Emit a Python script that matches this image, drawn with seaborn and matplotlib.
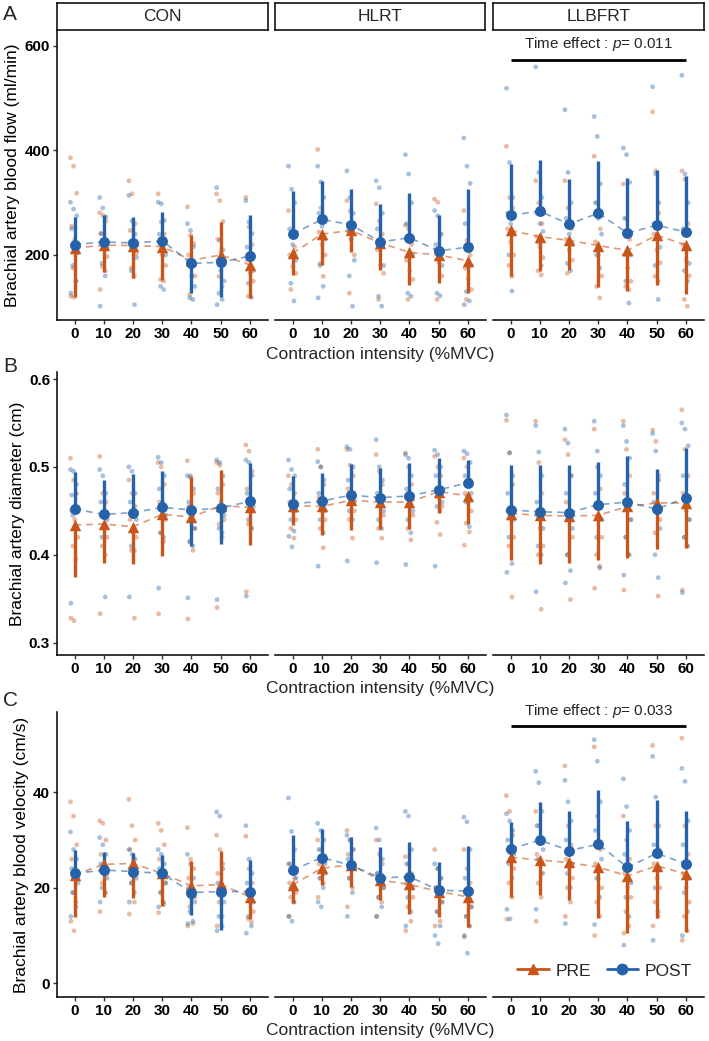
import numpy as np
import pandas as pd
import seaborn as sns
import matplotlib
matplotlib.use("Agg")
import matplotlib.pyplot as plt
from matplotlib.lines import Line2D
from matplotlib import font_manager

# ---------------- data ----------------
intensities = [0, 10, 20, 30, 40, 50, 60]
groups = ["CON", "HLRT", "LLBFRT"]
times = ["PRE", "POST"]

# Panel A: brachial artery blood flow (ml/min); *_end = end of the drawn one-sided SD bar
flow_pre_mean = {"CON": [213, 219, 218, 216, 190, 200, 181],
                 "HLRT": [203, 240, 247, 223, 205, 200, 189],
                 "LLBFRT": [247, 235, 228, 218, 209, 238, 219]}
flow_pre_end = {"CON": [119, 167, 156, 153, 238, 264, 118],
                "HLRT": [162, 180, 206, 172, 143, 146, 127],
                "LLBFRT": [160, 170, 172, 139, 132, 142, 126]}
flow_post_mean = {"CON": [220, 225, 223, 227, 184, 186, 198],
                  "HLRT": [240, 268, 258, 225, 233, 208, 215],
                  "LLBFRT": [276, 284, 259, 280, 242, 257, 244]}
flow_post_end = {"CON": [273, 276, 273, 283, 127, 119, 277],
                 "HLRT": [323, 342, 327, 298, 318, 276, 326],
                 "LLBFRT": [374, 381, 346, 379, 348, 363, 351]}

# Panel B: brachial artery diameter (cm)
diam_pre_mean = {"CON": [0.434, 0.435, 0.432, 0.446, 0.443, 0.456, 0.454],
                 "HLRT": [0.456, 0.455, 0.462, 0.460, 0.460, 0.472, 0.467],
                 "LLBFRT": [0.447, 0.445, 0.444, 0.445, 0.455, 0.459, 0.459]}
diam_pre_end = {"CON": [0.375, 0.391, 0.389, 0.399, 0.489, 0.497, 0.411],
                "HLRT": [0.434, 0.422, 0.428, 0.429, 0.429, 0.448, 0.435],
                "LLBFRT": [0.394, 0.389, 0.391, 0.394, 0.396, 0.407, 0.408]}
diam_post_mean = {"CON": [0.452, 0.446, 0.448, 0.454, 0.451, 0.453, 0.461],
                  "HLRT": [0.458, 0.461, 0.468, 0.465, 0.467, 0.474, 0.482],
                  "LLBFRT": [0.451, 0.449, 0.448, 0.457, 0.460, 0.452, 0.465]}
diam_post_end = {"CON": [0.494, 0.485, 0.492, 0.495, 0.410, 0.412, 0.505],
                 "HLRT": [0.490, 0.493, 0.503, 0.499, 0.504, 0.510, 0.508],
                 "LLBFRT": [0.502, 0.502, 0.502, 0.506, 0.512, 0.498, 0.521]}

# Panel C: brachial artery blood velocity (cm/s)
vel_pre_mean = {"CON": [22.7, 24.9, 25.1, 23.0, 20.4, 20.7, 18.1],
                "HLRT": [20.6, 24.1, 24.8, 21.6, 20.7, 19.2, 18.1],
                "LLBFRT": [26.4, 25.8, 25.3, 24.3, 22.5, 24.6, 22.9]}
vel_pre_end = {"CON": [13.9, 18.1, 17.8, 16.2, 25.7, 27.7, 13.4],
               "HLRT": [16.9, 20.6, 20.2, 17.4, 14.6, 13.8, 11.8],
               "LLBFRT": [18.0, 18.5, 17.4, 13.6, 10.6, 13.6, 10.8]}
vel_post_mean = {"CON": [23.0, 23.7, 23.4, 23.0, 19.0, 19.2, 19.2],
                 "HLRT": [23.7, 26.3, 24.7, 22.1, 22.3, 19.5, 19.3],
                 "LLBFRT": [28.1, 30.0, 27.8, 29.1, 24.3, 27.2, 25.0]}
vel_post_end = {"CON": [28.0, 27.5, 27.3, 26.8, 14.3, 11.1, 25.9],
                "HLRT": [31.0, 32.3, 30.7, 28.6, 29.6, 25.3, 28.7],
                "LLBFRT": [33.8, 38.0, 36.1, 40.5, 34.0, 38.4, 36.1]}

# Individual data points (read approximately)
flow_pre_pts = {
    "CON": [[386, 370, 318, 255, 230, 205, 175, 150, 121, 119],
            [281, 276, 265, 241, 220, 197, 178, 170, 134],
            [342, 317, 260, 247, 220, 203, 175, 159],
            [317, 263, 240, 225, 200, 180, 153, 150],
            [292, 238, 222, 200, 178, 160, 124],
            [317, 304, 264, 230, 206, 190, 159, 140],
            [310, 254, 220, 190, 165, 150, 121]],
    "HLRT": [[285, 240, 215, 200, 178, 165, 134],
             [402, 290, 265, 244, 220, 200, 184, 159],
             [304, 284, 260, 245, 230, 200, 127],
             [298, 265, 240, 210, 180, 165, 115],
             [257, 250, 220, 190, 170, 153, 115],
             [307, 301, 240, 210, 185, 160, 115],
             [285, 228, 200, 175, 155, 134, 115]],
    "LLBFRT": [[408, 310, 290, 250, 225, 200, 180, 159],
               [342, 300, 260, 235, 215, 195, 170, 162],
               [342, 290, 250, 230, 210, 190, 165],
               [389, 300, 250, 225, 200, 160, 140, 118],
               [336, 270, 230, 200, 175, 150, 140, 134],
               [474, 361, 280, 240, 210, 185, 159, 150],
               [361, 345, 260, 220, 190, 160, 115, 102]]}
flow_post_pts = {
    "CON": [[301, 288, 275, 250, 225, 205, 180, 150, 127],
            [310, 290, 273, 241, 225, 213, 184, 160, 102],
            [314, 265, 240, 225, 213, 195, 170, 105],
            [301, 298, 266, 240, 216, 200, 140, 134],
            [260, 247, 216, 190, 159, 140, 118, 115],
            [329, 228, 210, 190, 170, 150, 127, 115, 105],
            [304, 263, 241, 215, 190, 170, 146, 119]],
    "HLRT": [[370, 326, 300, 250, 220, 190, 146, 112],
             [370, 340, 310, 280, 255, 230, 180, 140, 118],
             [361, 310, 280, 260, 230, 190, 160, 102],
             [342, 329, 280, 250, 225, 180, 121, 102],
             [392, 355, 300, 260, 230, 200, 127, 121],
             [285, 275, 240, 220, 200, 180, 127, 122],
             [424, 370, 337, 260, 220, 180, 130, 112, 105]],
    "LLBFRT": [[519, 377, 310, 280, 260, 240, 200, 131],
               [560, 358, 310, 280, 260, 245, 225, 180],
               [478, 358, 300, 270, 240, 220, 184, 170],
               [465, 427, 336, 300, 270, 240, 200, 175],
               [405, 392, 339, 270, 240, 200, 150, 108],
               [522, 355, 300, 260, 240, 215, 180, 115],
               [544, 355, 300, 250, 220, 184, 170, 150]]}

diam_pre_pts = {
    "CON": [[0.51, 0.485, 0.47, 0.45, 0.44, 0.42, 0.41, 0.395, 0.328, 0.325],
            [0.512, 0.47, 0.46, 0.445, 0.43, 0.42, 0.41, 0.40, 0.333],
            [0.485, 0.47, 0.455, 0.44, 0.425, 0.42, 0.405, 0.328],
            [0.505, 0.50, 0.48, 0.46, 0.45, 0.44, 0.425, 0.415, 0.333],
            [0.507, 0.49, 0.47, 0.455, 0.445, 0.43, 0.415, 0.405, 0.327],
            [0.505, 0.502, 0.48, 0.47, 0.455, 0.44, 0.435, 0.42, 0.34],
            [0.525, 0.518, 0.495, 0.475, 0.46, 0.45, 0.435, 0.43, 0.358]],
    "HLRT": [[0.49, 0.48, 0.47, 0.46, 0.45, 0.44, 0.43, 0.419],
             [0.52, 0.50, 0.48, 0.465, 0.45, 0.44, 0.43, 0.408],
             [0.52, 0.502, 0.49, 0.475, 0.46, 0.45, 0.44, 0.419],
             [0.514, 0.495, 0.48, 0.465, 0.455, 0.445, 0.43, 0.419],
             [0.516, 0.50, 0.48, 0.465, 0.455, 0.445, 0.43, 0.417],
             [0.512, 0.50, 0.49, 0.475, 0.465, 0.455, 0.437, 0.423],
             [0.51, 0.50, 0.485, 0.47, 0.46, 0.45, 0.436, 0.426, 0.411]],
    "LLBFRT": [[0.553, 0.516, 0.48, 0.45, 0.44, 0.42, 0.41, 0.352],
               [0.552, 0.505, 0.47, 0.445, 0.43, 0.41, 0.40, 0.338],
               [0.531, 0.514, 0.49, 0.46, 0.44, 0.42, 0.40, 0.349],
               [0.543, 0.50, 0.475, 0.455, 0.44, 0.42, 0.40, 0.387, 0.362],
               [0.552, 0.52, 0.49, 0.47, 0.455, 0.44, 0.42, 0.40, 0.36],
               [0.542, 0.529, 0.49, 0.47, 0.455, 0.44, 0.425, 0.353],
               [0.565, 0.52, 0.49, 0.47, 0.45, 0.44, 0.42, 0.41, 0.36]]}
diam_post_pts = {
    "CON": [[0.497, 0.495, 0.48, 0.468, 0.455, 0.45, 0.445, 0.43, 0.345],
            [0.497, 0.49, 0.47, 0.46, 0.45, 0.44, 0.42, 0.352],
            [0.50, 0.495, 0.47, 0.46, 0.45, 0.44, 0.41, 0.405, 0.352],
            [0.511, 0.505, 0.49, 0.475, 0.46, 0.445, 0.425, 0.42, 0.362],
            [0.49, 0.488, 0.475, 0.46, 0.44, 0.43, 0.415, 0.41, 0.351],
            [0.508, 0.505, 0.49, 0.475, 0.46, 0.445, 0.43, 0.425, 0.349],
            [0.508, 0.505, 0.49, 0.47, 0.46, 0.455, 0.44, 0.43, 0.353]],
    "HLRT": [[0.508, 0.497, 0.49, 0.475, 0.46, 0.45, 0.44, 0.427, 0.421, 0.409],
             [0.506, 0.50, 0.485, 0.47, 0.46, 0.45, 0.44, 0.425, 0.387],
             [0.523, 0.52, 0.50, 0.485, 0.47, 0.46, 0.45, 0.44, 0.393],
             [0.531, 0.50, 0.485, 0.47, 0.46, 0.45, 0.44, 0.43, 0.391],
             [0.514, 0.51, 0.49, 0.475, 0.46, 0.45, 0.44, 0.425, 0.389],
             [0.519, 0.514, 0.50, 0.49, 0.475, 0.46, 0.455, 0.45, 0.387],
             [0.518, 0.515, 0.505, 0.49, 0.48, 0.47, 0.46, 0.432]],
    "LLBFRT": [[0.559, 0.516, 0.49, 0.47, 0.45, 0.44, 0.42, 0.39, 0.38],
               [0.547, 0.517, 0.49, 0.46, 0.445, 0.43, 0.41, 0.40, 0.358],
               [0.543, 0.527, 0.49, 0.47, 0.45, 0.43, 0.40, 0.382, 0.368],
               [0.552, 0.518, 0.49, 0.47, 0.46, 0.44, 0.42, 0.385],
               [0.547, 0.529, 0.51, 0.48, 0.46, 0.44, 0.42, 0.40, 0.377],
               [0.538, 0.518, 0.485, 0.46, 0.45, 0.43, 0.40, 0.374],
               [0.55, 0.543, 0.524, 0.49, 0.46, 0.44, 0.42, 0.41, 0.357]]}

vel_pre_pts = {
    "CON": [[38, 35, 29, 26, 24, 22, 19, 17, 13, 11],
            [34, 33.5, 30, 27, 25, 23, 21, 19, 15],
            [38.5, 33, 30, 28, 26, 23, 21, 17, 14.5],
            [33.5, 32, 29, 26, 24, 21, 19, 16.5, 14.8],
            [32.6, 26, 24, 22, 20, 18, 16, 12.5, 12],
            [31, 28, 25, 23, 21, 19, 17, 14, 12],
            [30.8, 24, 21, 19, 17, 15, 13.5, 12.8]],
    "HLRT": [[25, 23.5, 22, 21, 20.5, 19, 18, 17, 14],
             [30, 28, 26, 25, 24, 23, 22, 21, 18],
             [32, 30, 28, 27, 25, 24, 22, 20, 16],
             [30, 27, 25, 23, 21.5, 20, 18, 17, 14],
             [26.5, 25, 23, 21, 20, 18, 16, 13, 11],
             [28, 24, 22, 20, 18.5, 17, 15, 13, 12],
             [28, 24, 21, 19, 18, 16, 14, 12, 9.7]],
    "LLBFRT": [[39.3, 36, 31, 28, 26, 24, 21, 18, 13.4],
               [36, 33, 30, 27, 25, 23, 21, 18, 13],
               [45.5, 33, 29, 26, 24, 22, 20, 17, 14],
               [49.5, 35, 28, 25, 22, 20, 17, 14, 10],
               [35, 30, 26, 23, 20, 18, 15, 12, 10.5],
               [49.8, 33, 28, 25, 22, 20, 17, 14, 12],
               [51.3, 33, 27, 23, 20, 17, 14, 11, 9]]}
vel_post_pts = {
    "CON": [[31.7, 28, 26, 24, 23, 21, 19, 16, 14],
            [30.5, 29, 27, 25, 23.5, 22, 20, 19, 17],
            [28, 27, 26, 24, 23, 22, 21, 19, 17],
            [28, 27, 25, 24, 22, 21, 19, 17, 16],
            [27, 25, 22, 20, 19, 17, 15, 13, 12.5],
            [35.9, 35, 24, 21, 19, 17, 14, 12, 11],
            [33, 26, 23, 21, 19, 17, 14, 12, 10.5]],
    "HLRT": [[38.8, 31.8, 28, 25, 23.5, 22, 20, 17, 14, 13],
             [33.5, 32, 30, 28, 26, 25, 22, 20, 17, 16],
             [31, 30, 28, 26, 25, 24, 22, 19, 14],
             [32.5, 30, 26, 23, 22, 20, 18, 16, 14],
             [36, 35, 28, 25, 22, 20, 18, 15, 12],
             [25, 24, 22, 20, 19, 17, 15, 12, 10, 8.3],
             [34.8, 33.8, 28, 22, 19, 16, 14, 12, 10, 6.3]],
    "LLBFRT": [[35.5, 34, 32, 30, 28, 27, 25, 22, 15.5, 13.5],
               [44.4, 42, 36, 33, 30, 28, 26, 23, 15.5],
               [42.5, 38, 34, 30, 27, 25, 23, 20, 12.5],
               [51, 46.5, 38, 32, 29, 26, 22, 18, 12.3],
               [42.8, 37, 32, 27, 24, 21, 18, 14, 8],
               [47.5, 39, 33, 29, 27, 24, 20, 15, 9],
               [45, 42.3, 34, 29, 25, 22, 19, 15, 10]]}

ylabels = ["Brachial artery blood flow (ml/min)",
           "Brachial artery diameter (cm)",
           "Brachial artery blood velocity (cm/s)"]
yticks = [[200, 400, 600], [0.3, 0.4, 0.5, 0.6], [0, 20, 40]]
ytick_labels = [["200", "400", "600"], ["0.3", "0.4", "0.5", "0.6"], ["0", "20", "40"]]
ylims = [(75.6, 628.7), (0.286, 0.608), (-2.87, 56.8)]
annot_text = {0: "0.011", 2: "0.033"}
annot_line_y = {0: 574, 2: 53.9}
annot_text_y = {0: 604, 2: 57.1}

measures = [
    (flow_pre_mean, flow_pre_end, flow_post_mean, flow_post_end, flow_pre_pts, flow_post_pts),
    (diam_pre_mean, diam_pre_end, diam_post_mean, diam_post_end, diam_pre_pts, diam_post_pts),
    (vel_pre_mean, vel_pre_end, vel_post_mean, vel_post_end, vel_pre_pts, vel_post_pts),
]

# ---------------- style ----------------
sns.set_theme(style="ticks")
plt.rcParams["font.family"] = ["Liberation Sans", "DejaVu Sans"]
plt.rcParams["mathtext.fontset"] = "custom"
plt.rcParams["mathtext.it"] = "Liberation Sans:italic"
plt.rcParams["mathtext.rm"] = "Liberation Sans"

installed = {f.name for f in font_manager.fontManager.ttflist}
if "Liberation Sans Narrow" in installed:
    tick_family = ["Liberation Sans Narrow", "DejaVu Sans"]
    tick_size = 12
else:
    tick_family = ["Liberation Sans", "DejaVu Sans"]
    tick_size = 11

PRE_C = "#C8561A"
POST_C = "#2562AA"
pal = {"PRE": PRE_C, "POST": POST_C}
markers = {"PRE": "^", "POST": "o"}

W, H = 709, 1041
fig = plt.figure(figsize=(W / 100, H / 100), dpi=100)

panel_left = [57, 275, 493]
panel_w = 210.5
row_top = [31, 372, 712]
row_bottom = [320, 655, 997]
xlabel_y = [355, 689, 1030]
letter_y = [14, 366, 701]


def jitter(n):
    return ((np.arange(n) * 0.381966) % 1.0 - 0.5) * 2.8


for r, (pre_m, pre_e, post_m, post_e, pre_p, post_p) in enumerate(measures):
    for c, g in enumerate(groups):
        rect = [panel_left[c] / W, 1 - row_bottom[r] / H, panel_w / W,
                (row_bottom[r] - row_top[r]) / H]
        ax = fig.add_axes(rect)

        # individual points
        rows = []
        for t, pts in (("PRE", pre_p[g]), ("POST", post_p[g])):
            for xi, vals in zip(intensities, pts):
                for v, j in zip(vals, jitter(len(vals))):
                    rows.append({"time": t, "x": xi + j, "value": v})
        dpts = pd.DataFrame(rows)
        sns.scatterplot(data=dpts, x="x", y="value", hue="time", hue_order=times,
                        palette=pal, s=12, alpha=0.4, linewidth=0, legend=False,
                        ax=ax, zorder=1)

        # means
        dm = pd.DataFrame({
            "time": ["PRE"] * 7 + ["POST"] * 7,
            "x": intensities * 2,
            "mean": pre_m[g] + post_m[g],
            "end": pre_e[g] + post_e[g],
        })
        for t in times:
            sub = dm[dm.time == t]
            sns.lineplot(data=sub, x="x", y="mean", color=pal[t], linestyle=(0, (4, 3)),
                         lw=1.2, alpha=0.6, ax=ax, zorder=2, legend=False)
        for t in times:
            sub = dm[dm.time == t]
            ax.vlines(sub["x"], sub["mean"], sub["end"], color=pal[t], lw=2.4, zorder=3)
            sns.scatterplot(data=sub, x="x", y="mean", color=pal[t], marker=markers[t],
                            s=62 if t == "POST" else 68, linewidth=0, legend=False,
                            ax=ax, zorder=4)

        ax.set_xlim(-6, 66)
        ax.set_ylim(*ylims[r])
        ax.set_xticks(intensities)
        ax.set_xticklabels([str(v) for v in intensities], fontweight="bold",
                           fontsize=tick_size, family=tick_family)
        ax.set_xlabel("")
        ax.set_ylabel("")
        for s in ("top", "right"):
            ax.spines[s].set_visible(False)
        ax.spines["bottom"].set_color("black")
        ax.spines["bottom"].set_linewidth(1.1)
        ax.tick_params(axis="x", length=3, width=1, color="#333333", pad=2, colors="black")
        if c == 0:
            ax.spines["left"].set_color("black")
            ax.spines["left"].set_linewidth(1.1)
            ax.set_yticks(yticks[r])
            ax.set_yticklabels(ytick_labels[r], fontweight="bold", fontsize=tick_size,
                               family=tick_family)
            ax.tick_params(axis="y", length=3, width=1, color="#333333", pad=2, colors="black")
            ax.set_ylabel(ylabels[r], fontsize=12.5, color="black", labelpad=3)
        else:
            ax.spines["left"].set_visible(False)
            ax.set_yticks([])
        ax.grid(False)

        if c == 2 and r in annot_text:
            ax.plot([intensities[0], intensities[-1]], [annot_line_y[r]] * 2,
                    color="black", lw=2, clip_on=False, solid_capstyle="butt")
            ax.text(np.mean([intensities[0], intensities[-1]]), annot_text_y[r],
                    "Time effect : $\\it{p}$= " + annot_text[r], ha="center", va="center",
                    fontsize=11, clip_on=False)

        if c == 2 and r == 2:
            handles = [Line2D([], [], color=PRE_C, marker="^", lw=2, markersize=7.5),
                       Line2D([], [], color=POST_C, marker="o", lw=2, markersize=7.5)]
            ax.legend(handles, times, loc="lower right", bbox_to_anchor=(1.02, 0.01),
                      ncol=2, frameon=False, fontsize=12.5, handlelength=1.8,
                      handletextpad=0.4, columnspacing=0.9)

        # strips for first row
        if r == 0:
            sax = fig.add_axes([panel_left[c] / W, 1 - 30 / H, panel_w / W, 27 / H])
            sax.set_xticks([])
            sax.set_yticks([])
            sax.set_facecolor("white")
            for s in sax.spines.values():
                s.set_visible(True)
                s.set_color("black")
                s.set_linewidth(1.1)
            sax.text(0.5, 0.5, g, ha="center", va="center", fontsize=12.5,
                     transform=sax.transAxes)

    fig.text(380 / W, 1 - xlabel_y[r] / H, "Contraction intensity (%MVC)",
             ha="center", va="center", fontsize=12.5)
    fig.text(3 / W, 1 - letter_y[r] / H, "ABC"[r], ha="left", va="center", fontsize=15)

fig.savefig("out.png", dpi=100)
